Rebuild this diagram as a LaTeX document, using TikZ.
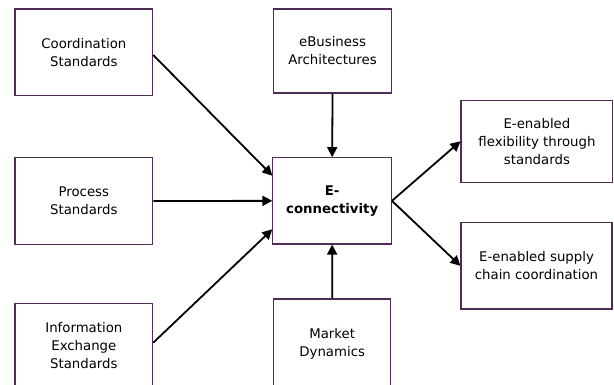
\documentclass[tikz,border=0pt]{standalone}
\usepackage{fontspec}
\setmainfont{DejaVu Sans}
\usetikzlibrary{arrows.meta}
\definecolor{boxpurple}{HTML}{4F2D57}
\begin{document}
\begin{tikzpicture}[x=1pt,y=-1pt,
  box/.style={draw=boxpurple,line width=1.1pt,fill=white,inner sep=0pt,
    font=\fontsize{13.3}{18}\selectfont,align=center},
  conn/.style={line width=1.8pt,-{Triangle[length=10pt,width=10pt]}}]
\useasboundingbox (0,0) rectangle (614,385);
\path[clip] (0,0) rectangle (614,385);
\node[box,minimum width=137.7pt,minimum height=86.3pt] (coord) at (83.85,52.15) {Coordination\\Standards};
\node[box,minimum width=117.7pt,minimum height=84pt] (ebus) at (332.55,51) {eBusiness\\Architectures};
\node[box,minimum width=137.7pt,minimum height=86.6pt] (proc) at (83.85,201) {Process\\Standards};
\node[box,minimum width=118.5pt,minimum height=86.3pt,font=\fontsize{13.3}{18}\selectfont\bfseries] (econ) at (332.15,200.85) {E-\\connectivity};
\node[box,minimum width=137.7pt,minimum height=84pt] (info) at (83.85,345.3) {Information\\Exchange\\Standards};
\node[box,minimum width=117pt,minimum height=90pt] (mark) at (332.2,344) {Market\\Dynamics};
\node[box,minimum width=151.9pt,minimum height=82pt] (flex) at (536.95,141.3) {E-enabled\\flexibility through\\standards};
\node[box,minimum width=151pt,minimum height=86.3pt] (supp) at (536.5,265.85) {E-enabled supply\\chain coordination};
\draw[conn] (coord.east |- 0,55) -- (econ.west |- 0,175.7);
\draw[conn] (proc.east) -- (econ.west);
\draw[conn] (info.east |- 0,342.7) -- (econ.west |- 0,229.3);
\draw[conn] (ebus.south) -- (econ.north);
\draw[conn] (mark.north) -- (econ.south);
\draw[conn] (econ.east) -- (flex.west);
\draw[conn] (econ.east) -- (supp.west);
\end{tikzpicture}
\end{document}
